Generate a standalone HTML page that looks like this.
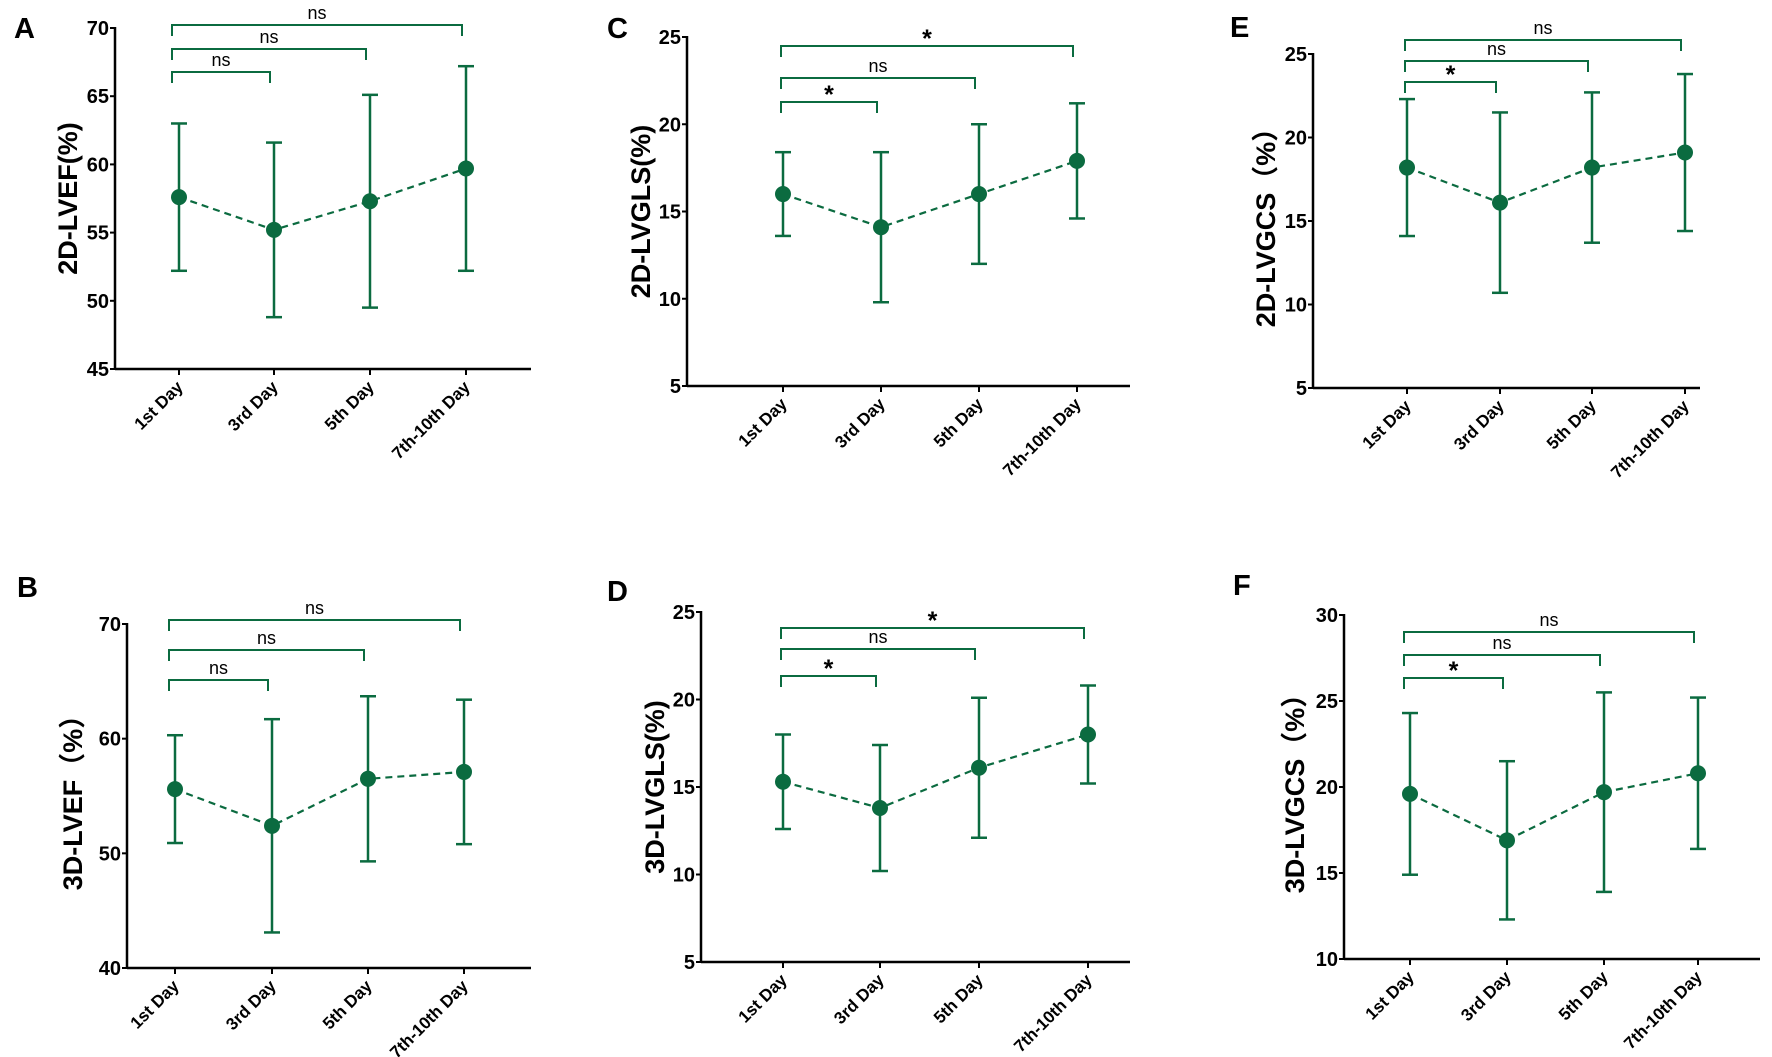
<!DOCTYPE html>
<html><head><meta charset="utf-8"><style>
body{margin:0;background:#fff}
svg{display:block;font-family:"Liberation Sans",Arial,"Noto Sans CJK SC",sans-serif}
</style></head><body>
<svg id="c" width="1772" height="1057" viewBox="0 0 1772 1057"></svg>
<script>
const categories=["1st Day","3rd Day","5th Day","7th-10th Day"];
const meansA=[57.6,55.2,57.3,59.7], lowA=[52.2,48.8,49.5,52.2], highA=[63.0,61.6,65.1,67.2];
const meansB=[55.6,52.4,56.5,57.1], lowB=[50.9,43.1,49.3,50.8], highB=[60.3,61.7,63.7,63.4];
const meansC=[16.0,14.1,16.0,17.9], lowC=[13.6,9.8,12.0,14.6], highC=[18.4,18.4,20.0,21.2];
const meansD=[15.3,13.8,16.1,18.0], lowD=[12.6,10.2,12.1,15.2], highD=[18.0,17.4,20.1,20.8];
const meansE=[18.2,16.1,18.2,19.1], lowE=[14.1,10.7,13.7,14.4], highE=[22.3,21.5,22.7,23.8];
const meansF=[19.6,16.9,19.7,20.8], lowF=[14.9,12.3,13.9,16.4], highF=[24.3,21.5,25.5,25.2];
const ticksA=[45,50,55,60,65,70], ticksB=[40,50,60,70], ticksCD=[5,10,15,20,25], ticksE=[5,10,15,20,25], ticksF=[10,15,20,25,30];
const sigA=["ns","ns","ns"], sigB=["ns","ns","ns"], sigC=["*","ns","*"], sigD=["*","ns","*"], sigE=["*","ns","ns"], sigF=["*","ns","ns"];

const G="#0b6b40";
const svg=document.getElementById('c');
const NS="http://www.w3.org/2000/svg";
function mk(tag,attrs,parent,txt){const e=document.createElementNS(NS,tag);for(const k in attrs)e.setAttribute(k,attrs[k]);if(txt!==undefined)e.textContent=txt;(parent||svg).appendChild(e);return e;}

const panels=[
 {id:"A",title:"2D-LVEF(%)",m:meansA,lo:lowA,hi:highA,ticks:ticksA,sig:sigA,ax:115,ay0:369,ay1:28,xend:531,cx:[179,274,370,466],br:[72,49,25],bx:172,lx:14,ly:38,tx:70},
 {id:"B",title:"3D-LVEF（%）",m:meansB,lo:lowB,hi:highB,ticks:ticksB,sig:sigB,ax:127,ay0:968,ay1:624,xend:531,cx:[175,272,368,464],br:[680,650,620],bx:169,lx:17,ly:597,tx:75},
 {id:"C",title:"2D-LVGLS(%)",m:meansC,lo:lowC,hi:highC,ticks:ticksCD,sig:sigC,ax:687,ay0:386,ay1:37,xend:1130,cx:[783,881,979,1077],br:[102,78,46],bx:781,lx:607,ly:38,tx:643},
 {id:"D",title:"3D-LVGLS(%)",m:meansD,lo:lowD,hi:highD,ticks:ticksCD,sig:sigD,ax:701,ay0:962,ay1:612,xend:1130,cx:[783,880,979,1088],br:[676,649,628],bx:781,lx:607,ly:601,tx:657},
 {id:"E",title:"2D-LVGCS（%）",m:meansE,lo:lowE,hi:highE,ticks:ticksE,sig:sigE,ax:1313,ay0:388,ay1:54,xend:1700,cx:[1407,1500,1592,1685],br:[82,61,40],bx:1405,lx:1230,ly:37,tx:1268},
 {id:"F",title:"3D-LVGCS（%）",m:meansF,lo:lowF,hi:highF,ticks:ticksF,sig:sigF,ax:1344,ay0:959,ay1:615,xend:1760,cx:[1410,1507,1604,1698],br:[678,655,632],bx:1404,lx:1233,ly:595,tx:1297}
];

panels.forEach(p=>{
 const g=mk('g',{});
 
 
 const t0=p.ticks[0],t1=p.ticks[p.ticks.length-1];
 const Y=v=>p.ay0+(v-t0)/(t1-t0)*(p.ay1-p.ay0);
 const lab=mk('text',{x:p.lx,y:p.ly,'font-size':29,'font-weight':'bold',fill:'#000'},g,p.id);
 
 
 const ya=mk('line',{x1:p.ax,y1:p.ay1-1,x2:p.ax,y2:p.ay0+1,stroke:'#000','stroke-width':2.5},g);
 
 
 const xa=mk('line',{x1:p.ax,y1:p.ay0,x2:p.xend,y2:p.ay0,stroke:'#000','stroke-width':2.5},g);
 
 
 p.ticks.forEach(v=>{
  mk('line',{x1:p.ax-5,y1:Y(v),x2:p.ax,y2:Y(v),stroke:'#000','stroke-width':2},g);
  const tl=mk('text',{x:p.ax-6,y:Y(v)+7,'font-size':20,'font-weight':'bold','text-anchor':'end'},g,v);
  
  
 });
 const yt=mk('text',{x:p.tx,y:(p.ay0+p.ay1)/2,'font-size':27,'font-weight':'bold','text-anchor':'middle',transform:`rotate(-90 ${p.tx} ${(p.ay0+p.ay1)/2})`,'dominant-baseline':'middle'},g,p.title);
 
 
 categories.forEach((c,i)=>{
  const x=p.cx[i];
  mk('line',{x1:x,y1:p.ay0,x2:x,y2:p.ay0+6,stroke:'#000','stroke-width':2},g);
  const xl=mk('text',{x:x+5,y:p.ay0+19,'font-size':17,'font-weight':'bold','text-anchor':'end',transform:`rotate(-45 ${x+5} ${p.ay0+19})`},g,c);
  
  
 });
 const pts=p.m.map((v,i)=>p.cx[i]+','+Y(v)).join(' ');
 const ln=mk('polyline',{points:pts,fill:'none',stroke:G,'stroke-width':2.2,'stroke-dasharray':'7,5'},g);
 
 
 p.m.forEach((v,i)=>{
  const x=p.cx[i];
  const eb=mk('g',{stroke:G,'stroke-width':2.5},g);
  
  
  mk('line',{x1:x,y1:Y(p.lo[i]),x2:x,y2:Y(p.hi[i])},eb);
  mk('line',{x1:x-8,y1:Y(p.lo[i]),x2:x+8,y2:Y(p.lo[i])},eb);
  mk('line',{x1:x-8,y1:Y(p.hi[i]),x2:x+8,y2:Y(p.hi[i])},eb);
  const pt=mk('circle',{cx:x,cy:Y(v),r:8,fill:G},g);
  
  
 });
 p.br.forEach((y,k)=>{
  const x2=p.cx[k+1]-4;
  const b=mk('polyline',{points:`${p.bx},${y+11} ${p.bx},${y} ${x2},${y} ${x2},${y+11}`,fill:'none',stroke:G,'stroke-width':2},g);
  
  
  const s=p.sig[k];
  const st=mk('text',{x:(p.bx+x2)/2,y:s==="*"?y+1:y-6,'font-size':s==="*"?25:18,'font-weight':s==="*"?'bold':'normal','text-anchor':'middle'},g,s);
  
  
 });
});
</script>
</body></html>
